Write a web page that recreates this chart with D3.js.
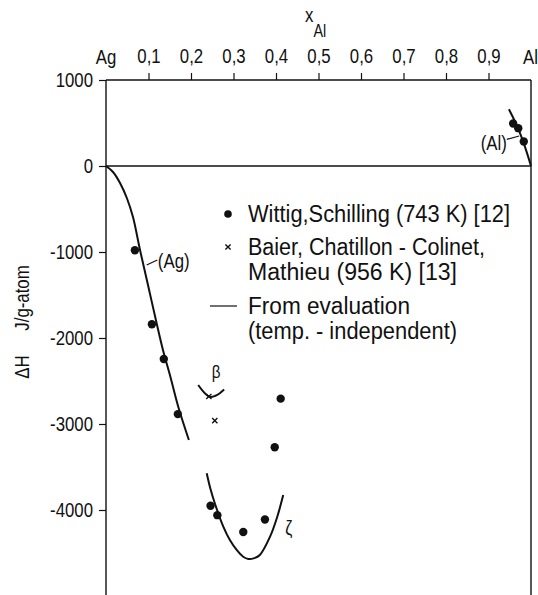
<!DOCTYPE html>
<html>
<head>
<meta charset="utf-8">
<script src="https://cdn.jsdelivr.net/npm/d3@7"></script>
<style>
  body { margin: 0; background: #fff; }
  svg text { font-family: 'Liberation Sans', Arial, sans-serif; fill: #111; }
</style>
</head>
<body>
<div id="chart"></div>
<script>
"use strict";

// ticks
const xTicks = [0.1, 0.2, 0.3, 0.4, 0.5, 0.6, 0.7, 0.8, 0.9];
const yTicks = [1000, 0, -1000, -2000, -3000, -4000];

// Wittig, Schilling (743 K) - filled dots
const wittigX = [0.068, 0.108, 0.136, 0.169, 0.246, 0.262, 0.323, 0.374, 0.397, 0.411, 0.958, 0.970, 0.983];
const wittigY = [-980, -1840, -2245, -2885, -3950, -4060, -4255, -4110, -3270, -2705, 495, 440, 285];

// Baier, Chatillon-Colinet, Mathieu (956 K) - crosses
const baierX = [0.242, 0.256];
const baierY = [-2680, -2960];

// evaluated curves
const agX = [0, 0.0165, 0.033, 0.049, 0.0635, 0.080, 0.0988, 0.119, 0.134, 0.151, 0.170, 0.195];
const agY = [0, -70, -198, -372, -593, -977, -1384, -1826, -2140, -2442, -2799, -3186];
const zetaX = [0.237, 0.246, 0.256, 0.276, 0.2915, 0.3075, 0.322, 0.335, 0.349, 0.362, 0.386, 0.403, 0.417];
const zetaY = [-3573, -3760, -3922, -4194, -4350, -4465, -4540, -4570, -4560, -4523, -4310, -4078, -3826];
const betaX = [0.217, 0.232, 0.244, 0.256, 0.267, 0.278];
const betaY = [-2547, -2640, -2685, -2675, -2645, -2600];
const alX = [0.948, 0.962, 0.975, 0.988, 1.0];
const alY = [660, 520, 370, 190, 0];

const legendItems = [
    { sym: "dot", lines: ["Wittig,Schilling (743 K) [12]"] },
    { sym: "cross", lines: ["Baier, Chatillon - Colinet,", "Mathieu (956 K) [13]"] },
    { sym: "line", lines: ["From evaluation", "(temp. - independent)"] }
];

const width = 538, height = 595;
const sx = 0.8; // narrow the font like the condensed lettering of the original

const svg = d3.select("#chart").append("svg")
    .attr("width", width)
    .attr("height", height);

const x = d3.scaleLinear().domain([0, 1]).range([106, 531]);
const y = d3.scaleLinear().domain([-5000, 1000]).range([596, 80]);

const ink = "#111";

// condensed text helper
function addText(parent, px, py, str, size, anchor, rot) {
    const g = parent.append("g")
        .attr("transform", `translate(${px},${py})${rot ? " rotate(" + rot + ")" : ""} scale(${sx},1)`);
    return g.append("text")
        .attr("text-anchor", anchor || "start")
        .attr("font-size", size)
        .text(str);
}

// frame
const frame = svg.append("g").attr("stroke", ink).attr("stroke-width", 1.4).attr("fill", "none");
frame.append("line").attr("x1", x(0)).attr("x2", x(0)).attr("y1", y(1000)).attr("y2", height);
frame.append("line").attr("x1", x(1)).attr("x2", x(1)).attr("y1", y(1000)).attr("y2", height);
frame.append("line").attr("x1", x(0)).attr("x2", x(1)).attr("y1", y(1000)).attr("y2", y(1000));
frame.append("line").attr("x1", x(0)).attr("x2", x(1)).attr("y1", y(0)).attr("y2", y(0));

// top axis
const xAxis = d3.axisTop(x)
    .tickValues(xTicks)
    .tickSize(7)
    .tickSizeOuter(0)
    .tickPadding(10)
    .tickFormat(d => d3.format(".1f")(d).replace(".", ","));
const gx = svg.append("g")
    .attr("transform", `translate(0,${y(1000)})`)
    .call(xAxis);
gx.select(".domain").remove();
gx.selectAll("line").attr("stroke", ink).attr("stroke-width", 1.2);
gx.selectAll("text").attr("font-size", 21).attr("font-family", null)
    .attr("transform", `scale(${sx},1)`);

// end labels
addText(svg, x(0), 64, "Ag", 21, "middle");
addText(svg, x(1) - 8, 64, "Al", 21, "start");

// axis title x_Al
const xt = addText(svg, 305, 22, "", 21, "start");
xt.append("tspan").text("x");
xt.append("tspan").attr("dy", 15).attr("font-size", 18).text("Al");

// left axis
const yAxis = d3.axisLeft(y)
    .tickValues(yTicks)
    .tickSize(7)
    .tickSizeOuter(0)
    .tickPadding(6)
    .tickFormat(d => String(d));
const gy = svg.append("g")
    .attr("transform", `translate(${x(0)},0)`)
    .call(yAxis);
gy.select(".domain").remove();
gy.selectAll("line").attr("stroke", ink).attr("stroke-width", 1.2);
gy.selectAll("text").attr("font-size", 21).attr("font-family", null)
    .attr("x", -13 / sx)
    .attr("transform", `scale(${sx},1)`);

// y title
addText(svg, 29, 367, "ΔH", 21, "middle", -90);
addText(svg, 29, 298, "J/g-atom", 21, "middle", -90);

// curves
const line = d3.line().x(d => x(d[0])).y(d => y(d[1])).curve(d3.curveCatmullRom);
const curves = [[agX, agY], [zetaX, zetaY], [betaX, betaY], [alX, alY]];
svg.append("g").selectAll("path")
    .data(curves.map(c => d3.zip(c[0], c[1])))
    .join("path")
    .attr("d", line)
    .attr("fill", "none")
    .attr("stroke", ink)
    .attr("stroke-width", 2);

// data points
svg.append("g").selectAll("circle")
    .data(d3.zip(wittigX, wittigY))
    .join("circle")
    .attr("cx", d => x(d[0]))
    .attr("cy", d => y(d[1]))
    .attr("r", 4.2)
    .attr("fill", ink);

const cr = 2.6;
svg.append("g").selectAll("path")
    .data(d3.zip(baierX, baierY))
    .join("path")
    .attr("d", d => {
        const cx = x(d[0]), cy = y(d[1]);
        return `M${cx - cr},${cy - cr}L${cx + cr},${cy + cr}M${cx - cr},${cy + cr}L${cx + cr},${cy - cr}`;
    })
    .attr("stroke", ink)
    .attr("stroke-width", 1.4);

// annotations
svg.append("line")
    .attr("x1", x(0.0958)).attr("y1", y(-1151))
    .attr("x2", x(0.1207)).attr("y2", y(-1093))
    .attr("stroke", ink).attr("stroke-width", 1.2);
addText(svg, x(0.122), y(-1186), "(Ag)", 21, "start");

svg.append("line")
    .attr("x1", x(0.943)).attr("y1", y(310))
    .attr("x2", x(0.972)).attr("y2", y(349))
    .attr("stroke", ink).attr("stroke-width", 1.2);
addText(svg, x(0.943), y(186), "(Al)", 21, "end");

addText(svg, x(0.259), y(-2465), "β", 19, "middle");
addText(svg, x(0.4215), y(-4290), "ζ", 20, "start");

// legend
const legend = svg.append("g");
const legendRows = [222, 255, 314];
const legendWidths = [[262], [237, 209], [162, 209]];
const lineGap = 25;
legendItems.forEach((item, i) => {
    const by = legendRows[i];
    const sy = by - 8;
    if (item.sym === "dot") {
        legend.append("circle").attr("cx", 228).attr("cy", sy).attr("r", 3.8).attr("fill", ink);
    } else if (item.sym === "cross") {
        legend.append("path")
            .attr("d", `M${228 - cr},${sy - cr}L${228 + cr},${sy + cr}M${228 - cr},${sy + cr}L${228 + cr},${sy - cr}`)
            .attr("stroke", ink).attr("stroke-width", 1.4);
    } else {
        legend.append("line").attr("x1", 210).attr("x2", 237).attr("y1", sy).attr("y2", sy)
            .attr("stroke", ink).attr("stroke-width", 1.2);
    }
    item.lines.forEach((t, j) => {
        legend.append("text")
            .attr("x", 248)
            .attr("y", by + j * lineGap)
            .attr("font-size", 23)
            .attr("textLength", legendWidths[i][j])
            .attr("lengthAdjust", "spacingAndGlyphs")
            .text(t);
    });
});
</script>
</body>
</html>
